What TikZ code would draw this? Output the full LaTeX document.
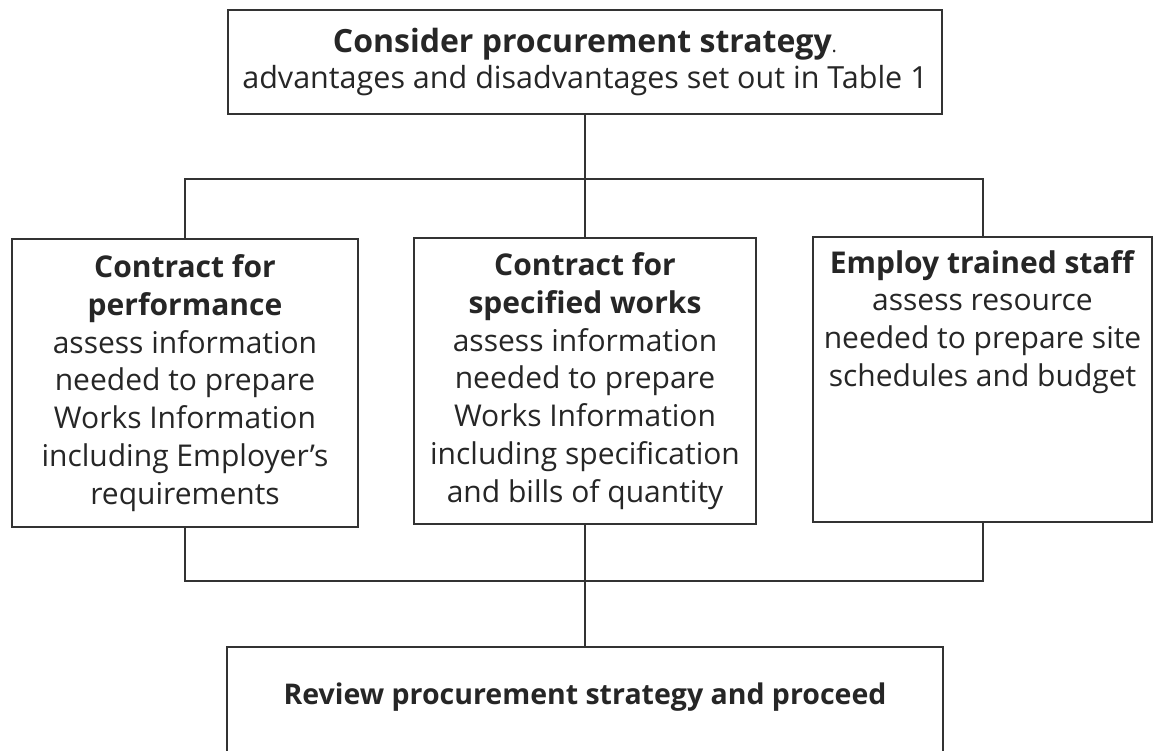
\documentclass[tikz,border=0pt]{standalone}
\usepackage{fontspec}
\setmainfont{Open Sans}
\definecolor{linec}{HTML}{333333}
\definecolor{textc}{HTML}{262626}
\newcommand\boxfont{\fontsize{30}{37.8}\selectfont}
\begin{document}
\begin{tikzpicture}[x=1pt,y=-1pt,
  box/.style={draw=linec, line width=2pt, fill=white, inner sep=0pt, align=center, font=\boxfont, text=textc},
  txt/.style={inner sep=0pt, align=center, font=\boxfont, text=textc},
  conn/.style={draw=linec, line width=2pt}]
\useasboundingbox (0,0) rectangle (1155,750);
\clip (0,0) rectangle (1155,750);
% boxes
\node[box, minimum width=714, minimum height=104, font=\fontsize{30.5}{36}\selectfont] (top) at (585,62)
  {{\fontsize{32}{36}\selectfont\textbf{Consider procurement strategy}\fontsize{20}{36}\selectfont.}\\advantages and disadvantages set out in Table 1};
\node[box, minimum width=346, minimum height=288] (perf) at (185,383)
  {\textbf{Contract for}\\\textbf{performance}\\assess information\\needed to prepare\\Works Information\\including Employer’s\\requirements};
\node[box, minimum width=342, minimum height=286] (spec) at (585,381)
  {\textbf{Contract for}\\\textbf{specified works}\\assess information\\needed to prepare\\Works Information\\including specification\\and bills of quantity};
\node[box, minimum width=339, minimum height=285] (staff) at (982.5,379.5) {};
\node[txt, anchor=north] (stafftext) at (982.5,250)
  {\textbf{Employ trained staff}\\assess resource\\needed to prepare site\\schedules and budget};
\node[box, anchor=north, minimum width=716, text height=57, text depth=70, font=\fontsize{28.5}{36}\selectfont] (review) at (585,646)
  {\textbf{Review procurement strategy and proceed}};
% junctions
\coordinate (jt) at (585,179);
\coordinate (jb) at (585,581);
% connectors
\draw[conn] (top.south) -- (spec.north);
\draw[conn] (perf.north) -- (perf.north |- jt) -- (staff.north |- jt) -- (staff.north);
\draw[conn] (perf.south) -- (perf.south |- jb) -- (staff.south |- jb) -- (staff.south);
\draw[conn] (spec.south) -- (review.north);
\end{tikzpicture}
\end{document}
